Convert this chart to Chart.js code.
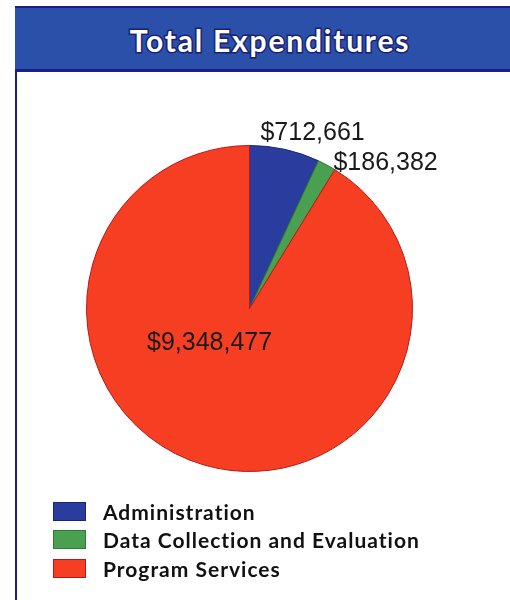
<!DOCTYPE html>
<html>
<head>
<meta charset="utf-8">
<script src="https://cdn.jsdelivr.net/npm/chart.js@4.4.1/dist/chart.umd.min.js"></script>
<style>
  html, body { margin: 0; padding: 0; background: #fff; }
  #wrap { position: relative; width: 510px; height: 600px; overflow: hidden; }
  #frame {
    position: absolute; left: 15px; top: 6px; width: 500px; height: 600px;
    border-left: 2px solid #1c1f86;
  }
  #header {
    position: absolute; left: 15px; top: 6px; width: 500px; height: 66px;
    background: #2b50aa;
    border-top: 2px solid #1c1f86; border-bottom: 3px solid #1c1f86;
    box-sizing: border-box;
  }
  #title {
    position: absolute; left: 15px; top: 8px; width: 510px; height: 62px;
    text-align: center;
    font: bold 30px Lato, "Open Sans", sans-serif;
    line-height: 64px;
    letter-spacing: 1.8px;
    color: #fff;
    -webkit-text-stroke: 3px #1a2070; paint-order: stroke fill;
  }
  #chart { position: absolute; left: 0; top: 0; }
  #legend { position: absolute; left: 53px; top: 497px; }
  .item { height: 28.5px; display: flex; align-items: center; }
  .box { width: 31px; height: 17px; margin-right: 17px; border: 1px solid; }
  .txt { font: bold 21px Lato, "Open Sans", sans-serif; letter-spacing: 1px; color: #111; }
</style>
</head>
<body>
<div id="wrap">
  <div id="frame"></div>
  <div id="header"></div>
  <div id="title">Total Expenditures</div>
  <canvas id="chart" width="510" height="600"></canvas>
  <div id="legend"></div>
</div>
<script>
// Chart data
const categories = ['Administration', 'Data Collection and Evaluation', 'Program Services'];
const amounts = [712661, 186382, 9348477];
const sliceColors = ['#2a3c9e', '#49a050', '#f63e22'];
const edgeColors = ['#1d237a', '#2f7a34', '#b81818'];

const fmt = v => '$' + v.toLocaleString('en-US');

// label placement relative to pie center, in units of the radius
const labelSpots = [
  { fx: 0.387, fy: -1.074, align: 'center' },
  { fx: 0.515, fy: -0.89, align: 'left' },
  { fx: -0.245, fy: 0.215, align: 'center' }
];

const valueLabels = {
  id: 'valueLabels',
  afterDatasetsDraw(chart) {
    const ctx = chart.ctx;
    const arcs = chart.getDatasetMeta(0).data;
    ctx.save();
    ctx.font = '25px "Liberation Sans", Arial, sans-serif';
    ctx.fillStyle = '#1a1a1a';
    ctx.textBaseline = 'middle';
    arcs.forEach((arc, i) => {
      const spot = labelSpots[i];
      const r = arc.outerRadius;
      ctx.textAlign = spot.align;
      ctx.fillText(fmt(amounts[i]), arc.x + spot.fx * r, arc.y + spot.fy * r);
    });
    ctx.restore();
  }
};

new Chart(document.getElementById('chart'), {
  type: 'pie',
  data: {
    labels: categories,
    datasets: [{
      data: amounts,
      backgroundColor: sliceColors,
      borderColor: edgeColors,
      borderWidth: 1
    }]
  },
  options: {
    responsive: false,
    animation: false,
    layout: { padding: { left: 86, right: 97, top: 145, bottom: 128 } },
    plugins: {
      legend: { display: false },
      tooltip: { enabled: false },
      title: { display: false }
    }
  },
  plugins: [valueLabels]
});

// legend
const legend = document.getElementById('legend');
categories.forEach((name, i) => {
  const row = document.createElement('div');
  row.className = 'item';
  const box = document.createElement('div');
  box.className = 'box';
  box.style.background = sliceColors[i];
  box.style.borderColor = edgeColors[i];
  const txt = document.createElement('span');
  txt.className = 'txt';
  txt.textContent = name;
  row.appendChild(box);
  row.appendChild(txt);
  legend.appendChild(row);
});
</script>
</body>
</html>
